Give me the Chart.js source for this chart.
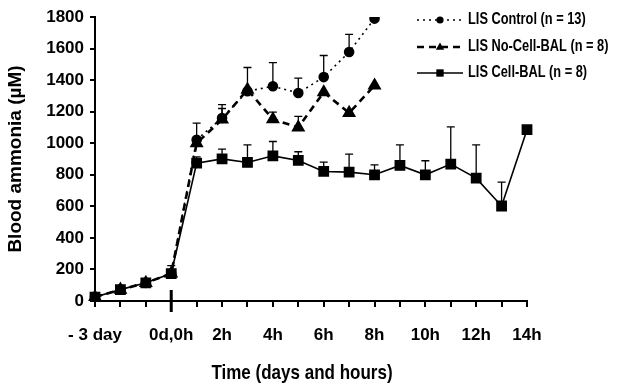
<!DOCTYPE html>
<html>
<head>
<meta charset="utf-8">
<script src="https://cdn.jsdelivr.net/npm/chart.js@4/dist/chart.umd.min.js"></script>
<style>
  html, body { margin: 0; padding: 0; background: #fff; }
  #wrap { width: 623px; height: 383px; }
</style>
</head>
<body>
<div id="wrap"><canvas id="ammoniaChart"></canvas></div>
<script>
// time points: 3 days before, then hourly after 0d,0h
const timePoints = ["-3d", "-2d", "-1d", "0h", "1h", "2h", "3h", "4h", "5h", "6h", "7h", "8h", "9h", "10h", "11h", "12h", "13h", "14h"];
const tickLabels = ["- 3 day", "", "", "0d,0h", "", "2h", "", "4h", "", "6h", "", "8h", "", "10h", "", "12h", "", "14h"];

const controlVals = [25, 72, 115, 174, 1022, 1160, 1330, 1361, 1318, 1419, 1578, 1790];
const controlErr  = [0, 0, 0, 50, 106, 85, 150, 150, 95, 137, 112, 0];

const noCellVals = [25, 72, 115, 174, 1000, 1150, 1340, 1152, 1100, 1323, 1192, 1366];
const noCellErr  = [0, 0, 0, 0, 0, 70, 0, 45, 70, 0, 0, 0];

const cellVals = [25, 72, 115, 174, 874, 901, 878, 920, 891, 821, 817, 800, 859, 800, 868, 779, 602, 1086];
const cellErr  = [0, 0, 0, 0, 40, 62, 112, 91, 55, 59, 114, 63, 131, 89, 235, 211, 151, 0];

const legendNames = ["LIS Control (n = 13)", "LIS No-Cell-BAL (n = 8)", "LIS Cell-BAL (n = 8)"];
const xTitle = "Time (days and hours)";

const fam = "'Liberation Sans', Arial, sans-serif";
const tickFont = { family: fam, size: 17, weight: "bold" };

// text squeezed horizontally (the original uses a condensed face)
function narrowText(ctx, text, x, y, size, squeeze, align) {
  ctx.save();
  ctx.font = "bold " + size + "px " + fam;
  ctx.textBaseline = "middle";
  ctx.textAlign = align;
  ctx.translate(x, y);
  ctx.scale(squeeze, 1);
  ctx.fillText(text, 0, 0);
  ctx.restore();
}

// upward-only error bars with a cap
const errorBars = {
  id: "errorBars",
  afterDatasetsDraw(chart) {
    const ctx = chart.ctx;
    const xs = chart.scales.x, ys = chart.scales.y;
    ctx.save();
    ctx.strokeStyle = "#000";
    ctx.lineWidth = 1.3;
    chart.data.datasets.forEach((ds) => {
      ds.errors.forEach((e, i) => {
        if (!e) return;
        const px = xs.getPixelForValue(i);
        const p0 = ys.getPixelForValue(ds.data[i]);
        const p1 = ys.getPixelForValue(ds.data[i] + e);
        ctx.beginPath();
        ctx.moveTo(px, p0);
        ctx.lineTo(px, p1);
        ctx.moveTo(px - 4, p1);
        ctx.lineTo(px + 4, p1);
        ctx.stroke();
      });
    });
    ctx.restore();
  }
};

// tall tick marking 0d,0h and the x title
const zeroTick = {
  id: "zeroTick",
  afterDraw(chart) {
    const ctx = chart.ctx;
    const px = chart.scales.x.getPixelForValue(3);
    const b = chart.chartArea.bottom;
    ctx.save();
    ctx.fillStyle = "#000";
    ctx.fillRect(px - 1.5, b - 11, 3, 22);
    const cx = (chart.chartArea.left + chart.chartArea.right) / 2 - 9;
    narrowText(ctx, xTitle, cx, b + 72, 21, 0.81, "center");
    ctx.restore();
  }
};

function drawMarker(ctx, style, x, y, r) {
  ctx.beginPath();
  if (style === "circle") {
    ctx.arc(x, y, r, 0, Math.PI * 2);
  } else if (style === "triangle") {
    ctx.moveTo(x, y - r);
    ctx.lineTo(x + r * 0.95, y + r * 0.6);
    ctx.lineTo(x - r * 0.95, y + r * 0.6);
    ctx.closePath();
  } else {
    const s = r * Math.SQRT1_2;
    ctx.rect(x - s, y - s, 2 * s, 2 * s);
  }
  ctx.fill();
}

// legend: line sample with marker in the middle
const lineLegend = {
  id: "lineLegend",
  afterDraw(chart) {
    const ctx = chart.ctx;
    const left = 417, right = 463, textX = 468;
    const rows = [20, 47, 73];
    ctx.save();
    chart.data.datasets.forEach((ds, k) => {
      const y = rows[k];
      ctx.strokeStyle = "#000";
      ctx.fillStyle = "#000";
      ctx.lineWidth = ds.borderWidth;
      ctx.setLineDash(ds.borderDash || []);
      ctx.beginPath();
      ctx.moveTo(left, y);
      ctx.lineTo(right, y);
      ctx.stroke();
      ctx.setLineDash([]);
      drawMarker(ctx, ds.pointStyle, (left + right) / 2, y, ds.pointRadius * 0.8);
      narrowText(ctx, legendNames[k], textX, y, 16, 0.8, "left");
    });
    ctx.restore();
  }
};

const canvas = document.getElementById("ammoniaChart").getContext("2d");

const chartInstance = new Chart(canvas, {
  type: "line",
  data: {
    labels: timePoints,
    datasets: [
      {
        label: legendNames[0],
        data: controlVals,
        errors: controlErr,
        borderColor: "#000",
        backgroundColor: "#000",
        borderWidth: 1.6,
        borderDash: [2, 4],
        pointStyle: "circle",
        pointRadius: 4.5,
      },
      {
        label: legendNames[1],
        data: noCellVals,
        errors: noCellErr,
        borderColor: "#000",
        backgroundColor: "#000",
        borderWidth: 2.6,
        borderDash: [7, 5],
        pointStyle: "triangle",
        pointRadius: 5.5,
      },
      {
        label: legendNames[2],
        data: cellVals,
        errors: cellErr,
        borderColor: "#000",
        backgroundColor: "#000",
        borderWidth: 1.6,
        pointStyle: "rect",
        pointRadius: 6.5,
      },
    ],
  },
  options: {
    responsive: true,
    maintainAspectRatio: false,
    animation: false,
    layout: { padding: { top: 17, right: 96, left: 0, bottom: 0 } },
    plugins: {
      legend: { display: false },
      tooltip: { enabled: false },
    },
    elements: { line: { tension: 0 } },
    scales: {
      x: {
        type: "category",
        offset: false,
        border: { display: true, color: "#000", width: 2 },
        grid: { display: true, drawOnChartArea: false, drawTicks: true, tickLength: 6, color: "#000", lineWidth: 2 },
        ticks: {
          autoSkip: false,
          maxRotation: 0,
          padding: 18,
          color: "#000",
          font: tickFont,
          callback: (v, i) => tickLabels[i],
        },
        afterFit: (scale) => { scale.height = 82; },
      },
      y: {
        min: 0,
        max: 1800,
        border: { display: true, color: "#000", width: 2 },
        grid: { display: true, drawOnChartArea: false, drawTicks: true, tickLength: 5, color: "#000", lineWidth: 2 },
        ticks: {
          stepSize: 200,
          padding: 6,
          color: "#000",
          font: tickFont,
          callback: (v) => String(v),
        },
        title: {
          display: true,
          text: "Blood ammonia (µM)",
          color: "#000",
          font: { family: fam, size: 19, weight: "bold" },
          padding: 4,
        },
        afterFit: (scale) => { scale.width = 95; },
      },
    },
  },
  plugins: [errorBars, zeroTick, lineLegend],
});

function resizeChart() {
  chartInstance.resize();
}
window.addEventListener("resize", resizeChart);
</script>
</body>
</html>
